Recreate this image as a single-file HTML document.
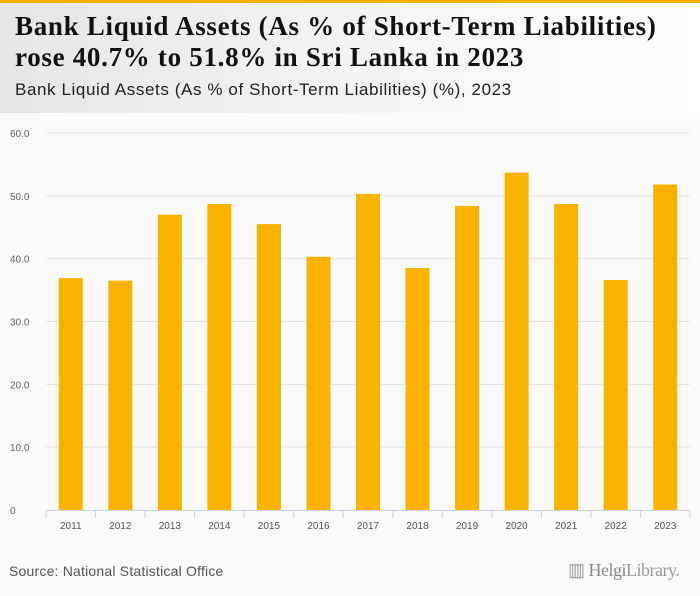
<!DOCTYPE html>
<html><head><meta charset="utf-8"><style>
body{margin:0;width:700px;height:596px;background:#fafafa;overflow:hidden;font-family:"Liberation Sans",sans-serif}
#top{position:absolute;left:0;top:0;width:700px;height:3px;background:#f5b000}
#hdr{position:absolute;left:0;top:3px;width:700px;height:110px;background:linear-gradient(90deg,#e6e6e6,#f6f6f6 60%,#ffffff)}
h1{position:absolute;left:15px;top:11px;margin:0;font:bold 27px/31px "Liberation Serif",serif;color:#111;letter-spacing:0.7px;white-space:nowrap}
#sub{position:absolute;left:15px;top:80px;font-size:17px;color:#222;letter-spacing:0.6px;white-space:nowrap}
#src{position:absolute;left:9px;top:563px;font-size:14px;color:#555;letter-spacing:0.2px}
#logo{position:absolute;left:568px;top:560px;font:18px "Liberation Serif",serif;color:#999;letter-spacing:-0.5px}
</style></head><body>
<div id="top"></div>
<div id="hdr"></div>
<h1>Bank Liquid Assets (As % of Short-Term Liabilities)<br>rose 40.7% to 51.8% in Sri Lanka in 2023</h1>
<div id="sub">Bank Liquid Assets (As % of Short-Term Liabilities) (%), 2023</div>
<svg id="chart" width="700" height="596" style="position:absolute;left:0;top:0"></svg>
<div id="src">Source: National Statistical Office</div>
<div id="logo">▥ <b style="font-weight:normal;color:#888">Helgi</b>Library.</div>
<script>
const categories=["2011","2012","2013","2014","2015","2016","2017","2018","2019","2020","2021","2022","2023"];
const values=[36.9,36.5,47.0,48.7,45.5,40.3,50.3,38.5,48.4,53.7,48.7,36.6,51.8];
const yTicks=[0,10,20,30,40,50,60];
const yTickLabels=["0","10.0","20.0","30.0","40.0","50.0","60.0"];
const NS="http://www.w3.org/2000/svg";
const svg=document.getElementById('chart');
const x0=46,x1=690,yBase=510,yTop=133,yMax=60;
const bw=(x1-x0)/categories.length;
const y=v=>yBase-(v/yMax)*(yBase-yTop);
function mk(t,a){const e=document.createElementNS(NS,t);for(const k in a)e.setAttribute(k,a[k]);svg.appendChild(e);return e;}
yTicks.forEach((t,i)=>{
  if(t>0){const g=mk('line',{x1:x0,x2:x1,y1:y(t),y2:y(t),stroke:'#e4e4e4','stroke-width':1});
  
  }
  const l=mk('text',{x:10,y:y(t)+4,'font-size':10,fill:'#666','font-family':'Liberation Sans, sans-serif'});
  l.textContent=yTickLabels[i];
  
  
});
categories.forEach((c,i)=>{
  const cx=x0+bw*(i+0.5);
  const r=mk('rect',{x:cx-12,y:y(values[i]),width:24,height:yBase-y(values[i]),fill:'#f9b200'});
  
  
  const tk=mk('line',{x1:x0+bw*i,x2:x0+bw*i,y1:yBase,y2:yBase+8,stroke:'#c8d4e8'});
  
  
  const l=mk('text',{x:cx,y:529,'font-size':10,fill:'#555','text-anchor':'middle','font-family':'Liberation Sans, sans-serif'});
  l.textContent=c;
  
  
});
const lt=mk('line',{x1:x1,x2:x1,y1:yBase,y2:yBase+8,stroke:'#c8d4e8'});


const ax=mk('line',{x1:x0,x2:x1,y1:yBase+0.5,y2:yBase+0.5,stroke:'#c8d4e8'});


</script>
</body></html>
